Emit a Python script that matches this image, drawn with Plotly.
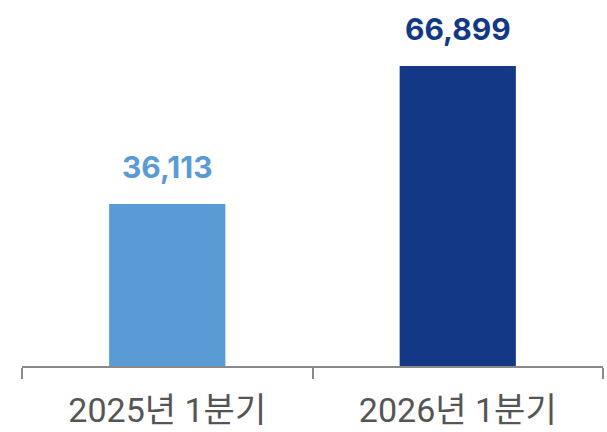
import plotly.graph_objects as go

categories = ["2025년 1분기", "2026년 1분기"]
values = [36113, 66899]
value_labels = ["36,113", "66,899"]
colors = ["#5b9bd5", "#133885"]

fig = go.Figure()
fig.add_trace(go.Bar(
    x=categories, y=values, marker=dict(color=colors, line=dict(width=0)),
    width=0.4, hoverinfo="skip",
))
for c, v, lab, col in zip(categories, values, value_labels, colors):
    fig.add_annotation(x=c, y=v, text=lab, showarrow=False, yanchor="bottom",
                       yshift=17, font=dict(family="Inter, Roboto, sans-serif", size=30, color=col, weight="bold"))

fig.update_layout(
    width=607, height=432,
    margin=dict(l=22, r=4, t=0, b=66),
    paper_bgcolor="white", plot_bgcolor="white",
    showlegend=False,
    xaxis=dict(
        type="category", range=[-0.5, 1.5], showline=True, linecolor="#8a8a8a", linewidth=1.5,
        ticks="outside", tickson="boundaries", ticklen=11, tickcolor="#8a8a8a", tickwidth=1.5,
        ticklabelstandoff=13,
        tickfont=dict(family="Roboto, 'Noto Sans CJK KR', sans-serif", size=34, color="#555555"),
        showgrid=False, zeroline=False,
    ),
    yaxis=dict(range=[0, 81620], visible=False, showgrid=False, zeroline=False),
)
fig.write_html("out.html")
